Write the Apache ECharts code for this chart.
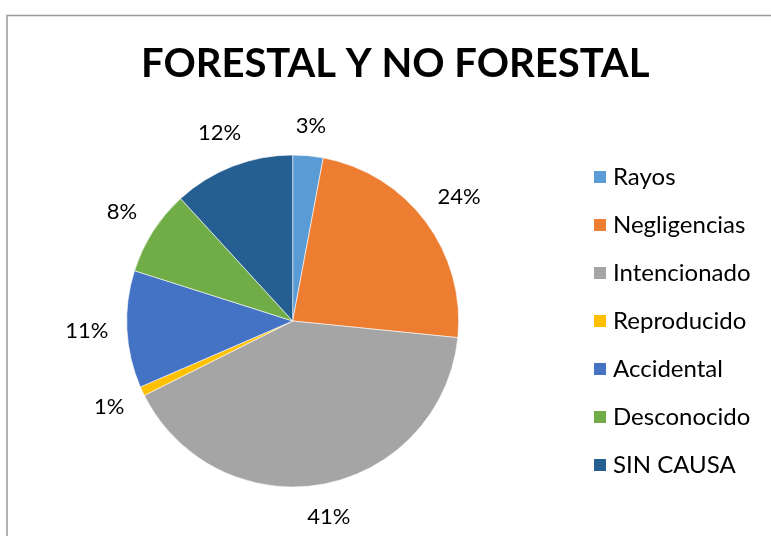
<!DOCTYPE html>
<html><head><meta charset="utf-8">
<script src="https://cdn.jsdelivr.net/npm/echarts@6/dist/echarts.min.js"></script>
<style>html,body{margin:0;padding:0;background:#fff}#c{width:771px;height:536px}</style>
</head><body><div id="c"></div>
<script>
const categories = ['Rayos','Negligencias','Intencionado','Reproducido','Accidental','Desconocido','SIN CAUSA'];
const values = [2.95, 23.65, 41.0, 0.9, 11.4, 8.3, 11.8];
const colors = ['#5B9BD5','#ED7D31','#A5A5A5','#FFC000','#4472C4','#70AD47','#255E91'];
const titleText = 'FORESTAL Y NO FORESTAL';
const FONT = 'Lato, "Open Sans", sans-serif';

const CX = 292.7, CY = 321, R = 166, GAP = 18;
const total = values.reduce((a,b)=>a+b,0);
const midAngles = [];
{ let acc = 0; values.forEach(v=>{ midAngles.push((acc + v/2)/total*2*Math.PI); acc += v; }); }

const chart = echarts.init(document.getElementById('c'), null, {renderer:'canvas'});
chart.setOption({
  animation:false,
  title:{text:titleText,left:141,top:44,padding:0,
    textStyle:{fontFamily:FONT,fontWeight:'bold',fontSize:40,color:'#000'}},
  graphic:[{type:'rect',shape:{x:7,y:15.5,width:800,height:600},
    style:{fill:'none',stroke:'#999',lineWidth:1.5},silent:true}],
  legend:{orient:'vertical',left:592,top:165,padding:0,itemWidth:14,itemHeight:14,itemGap:24,
    icon:'rect',
    textStyle:{fontFamily:FONT,fontSize:24,color:'#000',lineHeight:24,padding:[0,0,0,1]},
    data:categories},
  series:[{type:'pie',center:[CX,CY],radius:R,startAngle:90,clockwise:true,
    avoidLabelOverlap:false,
    itemStyle:{borderColor:'#fff',borderWidth:0.6},
    label:{show:true,position:'outside',fontFamily:FONT,fontSize:22,color:'#000',
      formatter:p=>Math.round(p.percent)+'%'},
    labelLine:{show:false,length:14,length2:4},
    labelLayout:function(p){
      const a = midAngles[p.dataIndex];
      const s = Math.sin(a), c = Math.cos(a);
      const w = p.labelRect.width, h = p.labelRect.height;
      const ext = Math.abs(s)*w/2 + Math.abs(c)*h/2;
      const d = R + GAP + ext;
      return {x: CX + d*s, y: CY - d*c, align:'center', verticalAlign:'middle'};
    },
    data:categories.map((n,i)=>({name:n,value:values[i],itemStyle:{color:colors[i]}}))
  }]
});
</script></body></html>
